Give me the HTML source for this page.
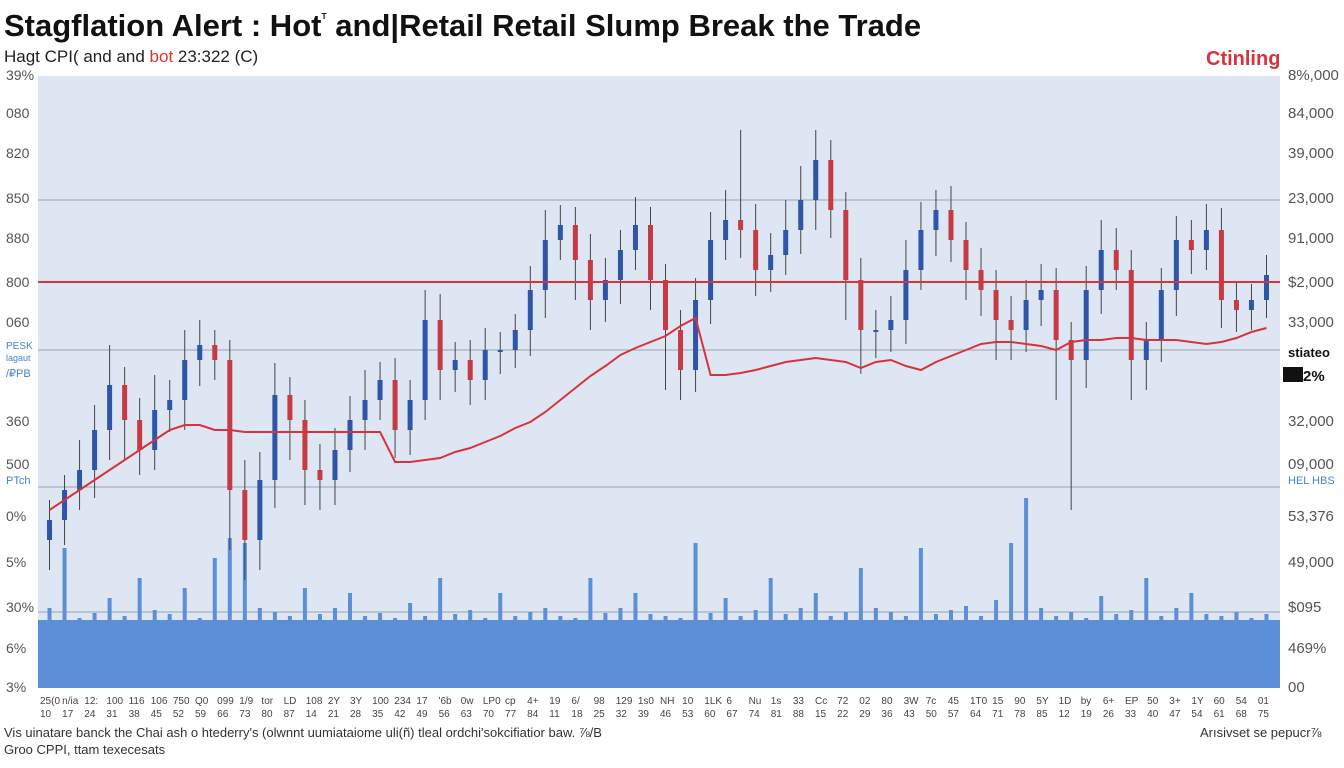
<!DOCTYPE html>
<html><head><meta charset="utf-8">
<style>
body{margin:0;width:1344px;height:768px;background:#fff;overflow:hidden;font-family:"Liberation Sans",sans-serif;}
svg{position:absolute;left:0;top:0}
</style></head>
<body>
<svg id="chart" width="1344" height="768">
<text x="4" y="36" font-size="31" font-weight="bold" fill="#111">Stagflation Alert : Hot<tspan font-size="12" dy="-14">ᵀ</tspan><tspan dy="14"> and</tspan>|Retail Retail Slump  Break the Trade</text>
<text x="4" y="62" font-size="17" fill="#222">Hagt CPI( and and <tspan fill="#d33">bot</tspan> 23:322 (C)</text>
<text x="1206" y="65" font-size="20" font-weight="bold" fill="#d8323c">Ctinling</text>
<rect x="38" y="76" width="1242" height="612" fill="#dde6f2"/>
<g id="grid"></g><g id="vol"></g><g id="candles"></g><g id="ma"></g><g id="labels"></g>
<text x="4" y="737" font-size="13" fill="#333">Vis uinatare banck the Chai ash o htederry's (olwnnt uumiataiome   uli(ñ) tleal ordchi'sokcifiatior baw. ⅞/B</text>
<text x="4" y="754" font-size="13" fill="#333">Groo CPPI, ttam texecesats</text>
<text x="1200" y="737" font-size="13" fill="#333">Arısivset se pepucr⅞</text>
</svg>
<script>
const closes=[168,198,218,258,303,268,238,278,288,328,343,328,198,148,208,293,268,218,208,238,268,288,308,258,288,368,318,328,308,338,338,358,398,448,463,428,388,408,438,463,408,358,318,388,448,468,458,418,433,458,488,528,478,408,358,358,368,418,458,478,448,418,398,368,358,388,398,348,328,398,438,418,328,348,398,448,438,458,388,378,388,413];
const wickUp=[20,15,30,25,40,18,22,35,20,30,25,15,20,30,28,32,18,20,26,22,24,30,18,22,20,30,26,18,20,22,18,16,24,30,20,18,26,22,20,28,18,16,20,22,28,30,90,26,22,30,34,30,20,18,22,20,24,30,28,20,24,18,22,20,24,20,26,22,18,24,30,22,20,18,22,24,20,26,22,18,16,20];
const wickDown=[30,25,20,28,30,40,25,20,22,30,26,20,60,40,30,28,40,35,30,25,22,30,20,28,25,20,30,22,25,20,24,18,26,28,20,40,30,22,24,20,30,60,30,22,24,20,28,26,22,20,24,30,28,40,44,28,22,24,20,26,22,30,26,40,30,22,26,60,150,28,24,20,40,30,22,26,24,20,28,22,20,18];
const volume=[80,140,70,75,90,72,110,78,74,100,70,130,150,145,80,76,72,100,74,80,95,72,75,70,85,72,110,74,78,70,95,72,76,80,72,70,110,75,80,95,74,72,70,145,75,90,72,78,110,74,80,95,72,76,120,80,76,72,140,74,78,82,72,88,145,190,80,72,76,70,92,74,78,110,72,80,95,74,72,76,70,74];
const leftTicks=["39%","080","820","850","880","800","060","","360","500","0%","5%","30%","6%","3%"];
const rightTicks=["8%,000","84,000","39,000","23,000","91,000","$2,000","33,000","","32,000","09,000","53,376","49,000","$095","469%","00"];
const maLine=[178,188,198,208,218,228,238,248,258,263,263,258,258,256,256,256,256,256,256,256,256,256,256,226,226,228,230,236,240,246,252,260,266,276,288,300,312,322,333,340,346,352,362,370,313,313,315,318,322,326,328,330,328,326,320,326,328,322,318,326,332,338,344,346,346,344,342,338,346,348,348,350,350,348,348,348,346,344,346,350,356,360];
const xTop=["25(0","n/ia","12:","100","116","106","750","Q0","099","1/9","tor","LD","108","2Y","3Y","100","234","17","'6b","0w","LP0","cp","4+","19","6/","98","129","1s0","NH","10","1LK","6","Nu","1s","33","Cc","72","02","80","3W","7c","45","1T0","15","90","5Y","1D","by","6+","EP","50","3+","1Y","60","54","01"];
const NS="http://www.w3.org/2000/svg";
const X0=42,X1=1274,Y0=688;
const n=closes.length,step=(X1-X0)/n;
function xs(i){return X0+step*(i+0.5);}
function ys(p){return Y0-p;}
function mk(tag,attrs,parent){const e=document.createElementNS(NS,tag);for(const k in attrs)e.setAttribute(k,attrs[k]);parent.appendChild(e);return e;}
const grid=document.getElementById('grid');
[200,350,487,612].forEach((y,i)=>{const l=mk('line',{x1:38,x2:1280,y1:y,y2:y,stroke:'#9aa3ae','stroke-width':1},grid);

});
const vol=document.getElementById('vol');
const base=mk('rect',{x:38,y:Y0-68,width:1242,height:68,fill:'#5b8fd8'},vol);


volume.forEach((v,i)=>{const r=mk('rect',{x:xs(i)-2,y:Y0-v,width:4,height:v,fill:'#5b8fd8'},vol);

});
const cg=document.getElementById('candles');
closes.forEach((c,i)=>{const o=i==0?c-20:closes[i-1];const up=c>=o;const col=up?'#2f55a8':'#c63a44';
const hi=Math.max(o,c)+wickUp[i],lo=Math.min(o,c)-wickDown[i];const x=xs(i);
const w=mk('line',{x1:x,x2:x,y1:ys(hi),y2:ys(lo),stroke:'#444','stroke-width':1},cg);


const b=mk('rect',{x:x-2.5,y:ys(Math.max(o,c)),width:5,height:Math.max(2,Math.abs(c-o)),fill:col},cg);

});
const ma=document.getElementById('ma');
const ml=mk('polyline',{points:maLine.map((v,i)=>xs(i)+','+ys(v)).join(' '),fill:'none',stroke:'#d8323c','stroke-width':2},ma);


const rl=mk('line',{x1:38,x2:1280,y1:282,y2:282,stroke:'#d8323c','stroke-width':2},ma);


const lab=document.getElementById('labels');
const tickY=[80,118,158,203,243,287,327,0,426,469,521,567,612,653,692];
leftTicks.forEach((t,i)=>{if(!t)return;const e=mk('text',{x:6,y:tickY[i],'font-size':14,fill:'#555'},lab);e.textContent=t;

});
rightTicks.forEach((t,i)=>{if(!t)return;const e=mk('text',{x:1288,y:tickY[i],'font-size':15,fill:'#555'},lab);e.textContent=t;

});
[["PESK",6,349,10],["lagaut",6,361,9],["/₽PB",6,377,11],["PTch",6,484,11]].forEach(a=>{const e=mk('text',{x:a[1],y:a[2],'font-size':a[3],fill:'#4a7fc8'},lab);e.textContent=a[0];

});
let e=mk('text',{x:1288,y:357,'font-size':13,'font-weight':'bold',fill:'#111'},lab);e.textContent='stiateo';


mk('rect',{x:1283,y:367,width:20,height:15,fill:'#111'},lab);
e=mk('text',{x:1303,y:381,'font-size':15,'font-weight':'bold',fill:'#111'},lab);e.textContent='2%';


e=mk('text',{x:1288,y:484,'font-size':11,fill:'#4a7fc8'},lab);e.textContent='HEL HBS';


xTop.forEach((t,i)=>{const x=40+i*(1240/xTop.length);
const a=mk('text',{x:x,y:704,'font-size':10,fill:'#444'},lab);a.textContent=t;


const b=mk('text',{x:x,y:717,'font-size':10,fill:'#444'},lab);b.textContent=String(10+(i*7)%80);

});
</script>
</body></html>
